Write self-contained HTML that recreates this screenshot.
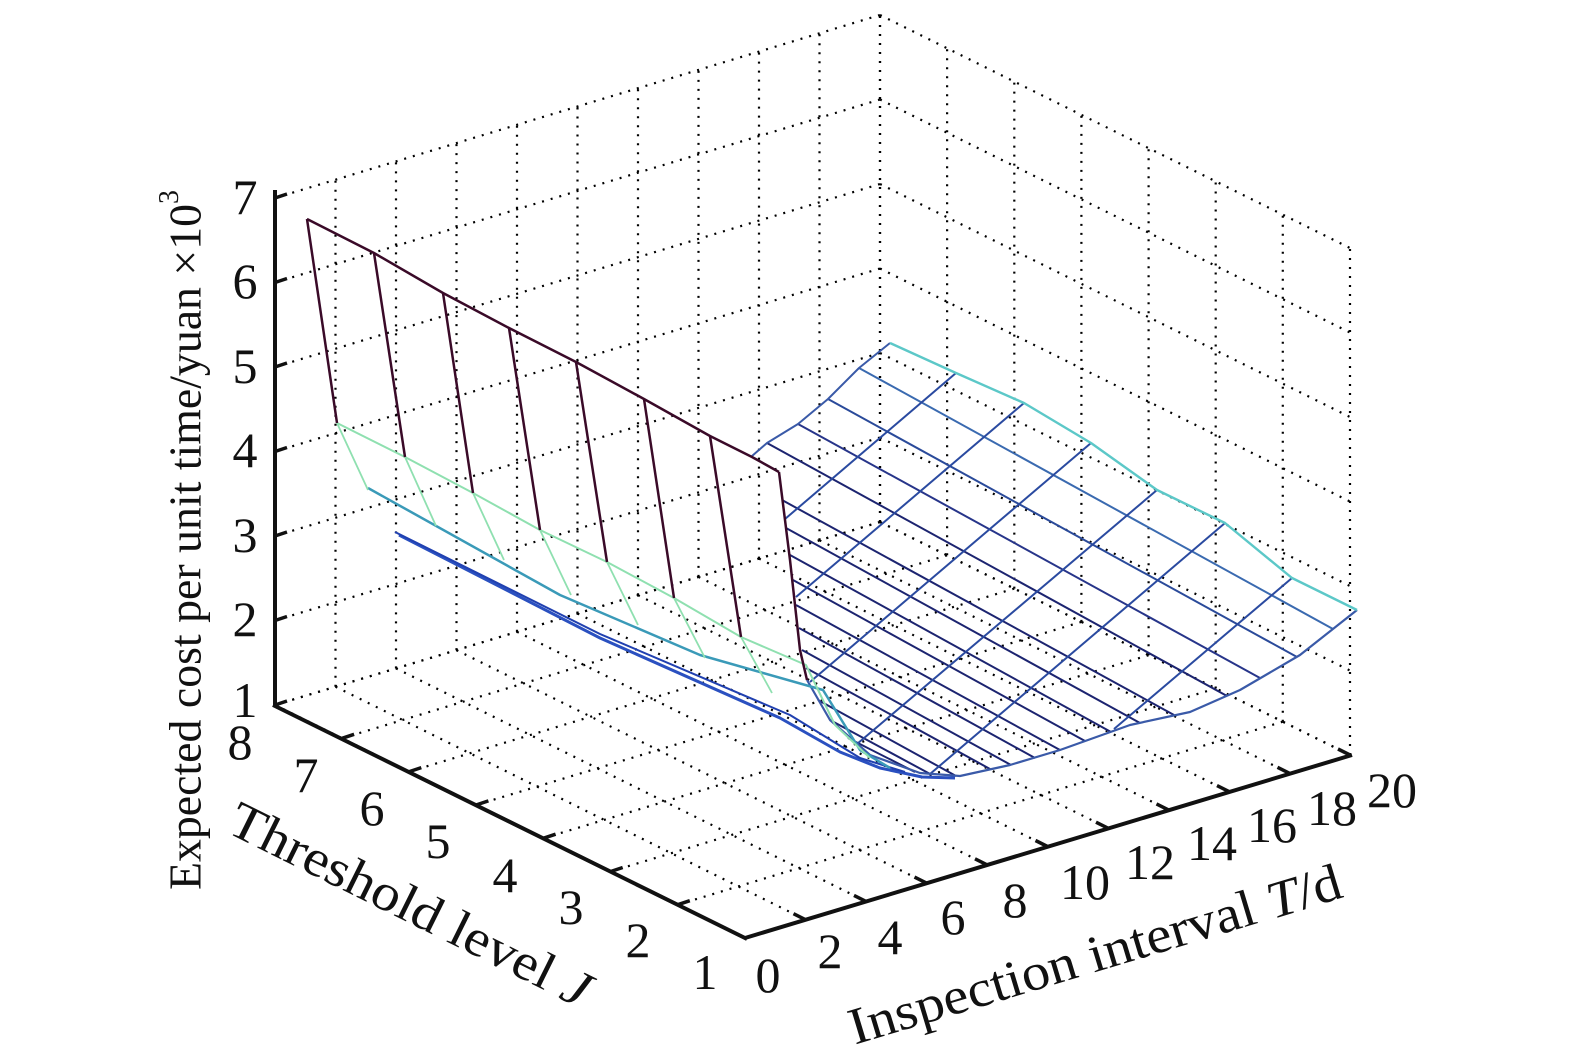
<!DOCTYPE html>
<html><head><meta charset="utf-8"><style>
html,body{margin:0;padding:0;background:#fff;}
svg{display:block;}
</style></head><body>
<svg width="1575" height="1063" viewBox="0 0 1575 1063" xmlns="http://www.w3.org/2000/svg" font-family="'Liberation Serif','Times New Roman',serif">
<rect width="1575" height="1063" fill="#fff"/>
<!-- dotted grid -->
<g stroke="#000" stroke-width="2.2" stroke-dasharray="2,7" fill="none">
<path d="M275 705L880 522M275 620.5L880 437.5M275 536L880 353M275 451.5L880 268.5M275 367L880 184M275 282.5L880 99.5M275 198L880 15"/>
<path d="M275 705V198M335.5 686.7V179.7M396 668.4V161.4M456.5 650.1V143.1M517 631.8V124.8M577.5 613.5V106.5M638 595.2V88.2M698.5 576.9V69.9M759 558.6V51.6M819.5 540.3V33.3M880 522V15"/>
<path d="M880 522L1350 755M880 437.5L1350 670.5M880 353L1350 586M880 268.5L1350 501.5M880 184L1350 417M880 99.5L1350 332.5M880 15L1350 248"/>
<path d="M880 522V15M947.1 555.3V48.3M1014.3 588.6V81.6M1081.4 621.9V114.9M1148.6 655.2V148.2M1215.7 688.5V181.5M1282.8 721.7V214.7M1350 755V248"/>
<path d="M275 705L745 938M335.5 686.7L805.5 919.7M396 668.4L866 901.4M456.5 650.1L926.5 883.1M517 631.8L987 864.8M577.5 613.5L1047.5 846.5M638 595.2L1108 828.2M698.5 576.9L1168.5 809.9M759 558.6L1229 791.6M819.5 540.3L1289.5 773.3M880 522L1350 755"/>
<path d="M275 705L880 522M342.1 738.3L947.1 555.3M409.3 771.6L1014.3 588.6M476.4 804.9L1081.4 621.9M543.6 838.2L1148.6 655.2M610.7 871.5L1215.7 688.5M677.8 904.7L1282.8 721.7M745 938L1350 755"/>
</g>
<g fill="none" stroke-linejoin="round">
<!-- rows -->
<g stroke="#1c2470" stroke-width="2">
<line x1="859" y1="368" x2="1333" y2="629" stroke="#3a6ab0"/>
<line x1="828" y1="399" x2="1297" y2="657" stroke="#2a4a9a"/>
<line x1="798" y1="424" x2="1260" y2="678" stroke="#27358a"/>
<line x1="767" y1="443" x2="1227" y2="696"/>
<line x1="782" y1="500" x2="1174" y2="715"/>
<line x1="786" y1="528" x2="1140" y2="723"/>
<line x1="790" y1="555" x2="1111" y2="732"/>
<line x1="793" y1="580" x2="1085" y2="741"/>
<line x1="796" y1="605" x2="1060" y2="750"/>
<line x1="799" y1="628" x2="1035" y2="758"/>
<line x1="802" y1="650" x2="1011" y2="765"/>
<line x1="806" y1="668" x2="990" y2="769"/>
<line x1="818" y1="700" x2="956" y2="776"/>
<line x1="830" y1="720" x2="932" y2="775"/>
<line x1="848" y1="738" x2="915" y2="772"/>
</g>
<!-- columns -->
<g stroke="#2a4aa0" stroke-width="2">
<polyline stroke="#3a5aa8" points="890,343 859,368 828,399 798,424 767,443 752,456"/>
<line x1="956" y1="373" x2="785" y2="519"/>
<line x1="1024" y1="403" x2="796" y2="597"/>
<line x1="1091" y1="443" x2="810" y2="682"/>
<line x1="1157" y1="490" x2="857" y2="744"/>
<line x1="1225" y1="523" x2="930" y2="774"/>
<line x1="1292" y1="578" x2="1114" y2="729"/>
</g>
<!-- bottom/right boundary -->
<polyline stroke="#3a5aa8" stroke-width="2.2" points="1357,610 1300,655 1240,690 1190,712 1130,725 1060,750 1010,765 960,776 920,773 870,755 830,720 807,680"/>
<polyline stroke="#5cc8c8" stroke-width="2.4" points="890,343 956,373 1024,403 1091,443 1157,490 1225,523 1292,578 1357,610"/>
<!-- left front lines -->
<polyline stroke="#2a50c0" stroke-width="3" points="399,535 600,638 780,718 840,752 880,768 922,777 955,778"/>
<polyline stroke="#2040b0" stroke-width="2" points="395,532 600,634 790,715 860,758 905,772"/>
<polyline stroke="#3a9ab8" stroke-width="2.5" points="368,488 560,595 700,655 823,690 860,750 890,768"/>
<polyline stroke="#8fe0b0" stroke-width="2" points="337,423 405,457 473,493 540,530 607,562 674,598 741,637 806,665 835,725 870,758"/>
<g stroke="#8fe0b0" stroke-width="1.8">
<line x1="337" y1="423" x2="368" y2="490"/><line x1="405" y1="457" x2="436" y2="526"/>
<line x1="473" y1="493" x2="504" y2="560"/><line x1="540" y1="530" x2="571" y2="595"/>
<line x1="607" y1="562" x2="638" y2="625"/><line x1="674" y1="598" x2="705" y2="658"/>
<line x1="741" y1="637" x2="772" y2="693"/><line x1="806" y1="665" x2="835" y2="725"/>
</g>
<!-- wall -->
<g stroke="#3a0a28" stroke-width="2.5">
<polyline points="307,219 374,253 443,293 509,328 576,362 644,399 710,436 752,457 779,472"/>
<line x1="307" y1="219" x2="337" y2="423"/><line x1="374" y1="253" x2="405" y2="457"/>
<line x1="443" y1="293" x2="473" y2="493"/><line x1="509" y1="328" x2="540" y2="530"/>
<line x1="576" y1="362" x2="607" y2="562"/><line x1="644" y1="399" x2="674" y2="598"/>
<line x1="710" y1="436" x2="741" y2="637"/>
<polyline points="779,472 790,560 800,650 807,680"/>
</g>
</g>
<!-- axes -->
<g stroke="#111" stroke-width="4" fill="none">
<line x1="275" y1="190" x2="275" y2="707"/>
<line x1="273" y1="705" x2="747" y2="939"/>
<line x1="745" y1="938" x2="1352" y2="755"/>
</g>
<g stroke="#111" stroke-width="3.5">
<path d="M275 705l12 -4M275 620.5l12 -4M275 536l12 -4M275 451.5l12 -4M275 367l12 -4M275 282.5l12 -4M275 198l12 -4"/>
<path d="M342.1 738.3l12 -4M409.3 771.6l12 -4M476.4 804.9l12 -4M543.6 838.2l12 -4M610.7 871.5l12 -4M677.8 904.7l12 -4"/>
<path d="M805.5 919.7l-12 -6M866 901.4l-12 -6M926.5 883.1l-12 -6M987 864.8l-12 -6M1047.5 846.5l-12 -6M1108 828.2l-12 -6M1168.5 809.9l-12 -6M1229 791.6l-12 -6M1289.5 773.3l-12 -6M1350 755l-12 -6"/>
</g>
<g font-size="50" text-anchor="middle" dominant-baseline="central" fill="#111">
<text x="245" y="197">7</text><text x="245" y="281">6</text><text x="245" y="366">5</text>
<text x="245" y="450">4</text><text x="245" y="535">3</text><text x="245" y="619">2</text>
<text x="245" y="700">1</text>
<text x="240" y="742">8</text><text x="306" y="775">7</text><text x="372" y="808">6</text>
<text x="438" y="841">5</text><text x="505" y="875">4</text><text x="571" y="907">3</text>
<text x="638" y="940">2</text><text x="705" y="972">1</text>
<text x="768" y="975">0</text><text x="830" y="951">2</text><text x="890" y="937">4</text>
<text x="953" y="917">6</text><text x="1015" y="900">8</text><text x="1085" y="882">10</text>
<text x="1150" y="862">12</text><text x="1212" y="843">14</text><text x="1272" y="825">16</text>
<text x="1332" y="808">18</text><text x="1392" y="790">20</text>
</g>
<text font-size="46" fill="#111" text-anchor="middle" dominant-baseline="central" transform="translate(185,540) rotate(-90)" textLength="700" lengthAdjust="spacingAndGlyphs">Expected cost per unit time/yuan ×10<tspan font-size="28" dy="-16">3</tspan></text>
<text font-size="52" fill="#111" text-anchor="middle" dominant-baseline="central" transform="translate(410,905) rotate(26.4)" textLength="397" lengthAdjust="spacingAndGlyphs">Threshold level <tspan font-style="italic">J</tspan></text>
<text font-size="52" fill="#111" text-anchor="middle" dominant-baseline="central" transform="translate(1095,955) rotate(-16.8)" textLength="512" lengthAdjust="spacingAndGlyphs">Inspection interval <tspan font-style="italic">T</tspan>/d</text>
</svg>
</body></html>
